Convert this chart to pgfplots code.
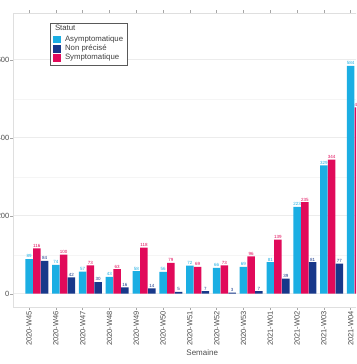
\documentclass[border=0pt]{standalone}
\usepackage{pgfplots}
\pgfplotsset{compat=1.18}
\usepackage{fontspec}
\setmainfont{Liberation Sans}
\definecolor{cA}{RGB}{27,174,227}
\definecolor{cS}{RGB}{225,10,90}
\definecolor{cN}{RGB}{24,56,138}
\definecolor{tickgray}{RGB}{77,77,77}
\begin{document}
\begin{tikzpicture}
\useasboundingbox (0,0) rectangle (356pt,364pt);
\clip (0,0) rectangle (356pt,364pt);
\begin{axis}[
  at={(13pt,57pt)}, anchor=south west,
  scale only axis, x=26.8pt, y=0.39pt,
  xmin=-0.6, xmax=13.5, ymin=-34, ymax=720,
  clip=false,
  /pgf/number format/assume math mode=true,
  axis line style={draw=gray!25},
  tick align=outside, major tick length=2.5pt,
  tick style={draw=gray!70, line width=0.4pt},
  minor tick length=0pt,
  xtick={0,...,12},
  xticklabels={2020-W45,2020-W46,2020-W47,2020-W48,2020-W49,2020-W50,2020-W51,2020-W52,2020-W53,2021-W01,2021-W02,2021-W03,2021-W04},
  xticklabel style={rotate=90, anchor=east, font=\fontsize{7.5}{8}\selectfont, text=tickgray, inner sep=1.5pt},
  ytick={0,200,400,600},
  minor ytick={100,300,500},
  yticklabel style={font=\fontsize{7.5}{8}\selectfont, text=tickgray, inner sep=1pt},
  ymajorgrids, yminorgrids,
  major grid style={draw=gray!15, line width=0.5pt},
  minor grid style={draw=gray!8, line width=0.3pt},
  legend style={at={(0.098,0.967)}, anchor=north west, draw=gray!70!black, line width=0.5pt,
    font=\fontsize{7.8}{8}\selectfont, inner sep=2pt, row sep=-2pt,
    cells={anchor=west}, text=black!75},
  legend image code/.code={\fill[#1] (1pt,-3.3pt) rectangle (8pt,3.3pt);},
  every node near coord/.append style={anchor=south, font=\fontsize{4.5}{5}\selectfont, inner sep=0.8pt},
]
\addplot[ybar, bar width=7.5pt, bar shift=0pt, fill=cA, draw=none,
  nodes near coords, every node near coord/.append style={text=cA}, forget plot]
  coordinates {(0,89) (1,74) (2,57) (3,43) (4,58) (5,56) (6,72) (7,66) (8,69) (9,81) (10,223) (11,329) (12,584)};
\addplot[ybar, bar width=7.5pt, bar shift=7.7pt, fill=cS, draw=none,
  nodes near coords, every node near coord/.append style={text=cS, xshift=7.7pt}, forget plot]
  coordinates {(0,116) (1,100) (2,73) (3,63) (4,118) (5,79) (6,69) (7,73) (8,96) (9,139) (10,235) (11,344) (12,478)};
\addplot[ybar, bar width=7.5pt, bar shift=15.5pt, fill=cN, draw=none,
  nodes near coords, every node near coord/.append style={text=cN, xshift=15.5pt}, forget plot]
  coordinates {(0,84) (1,42) (2,30) (3,16) (4,14) (5,5) (6,7) (7,3) (8,7) (9,39) (10,81) (11,77)};
\addlegendimage{legend image code/.code={}}
\addlegendentry{\hspace*{-7.5pt}\raisebox{1.5pt}[\height][0pt]{Statut}}
\addlegendimage{cA}
\addlegendentry{\hspace*{2.5pt}Asymptomatique}
\addlegendimage{cN}
\addlegendentry{\hspace*{2.5pt}Non précisé}
\addlegendimage{cS}
\addlegendentry{\hspace*{2.5pt}Symptomatique}
\node[font=\fontsize{8}{9}\selectfont, text=tickgray] at (axis cs:6.46,-151) {Semaine};
\end{axis}
\end{tikzpicture}
\end{document}
